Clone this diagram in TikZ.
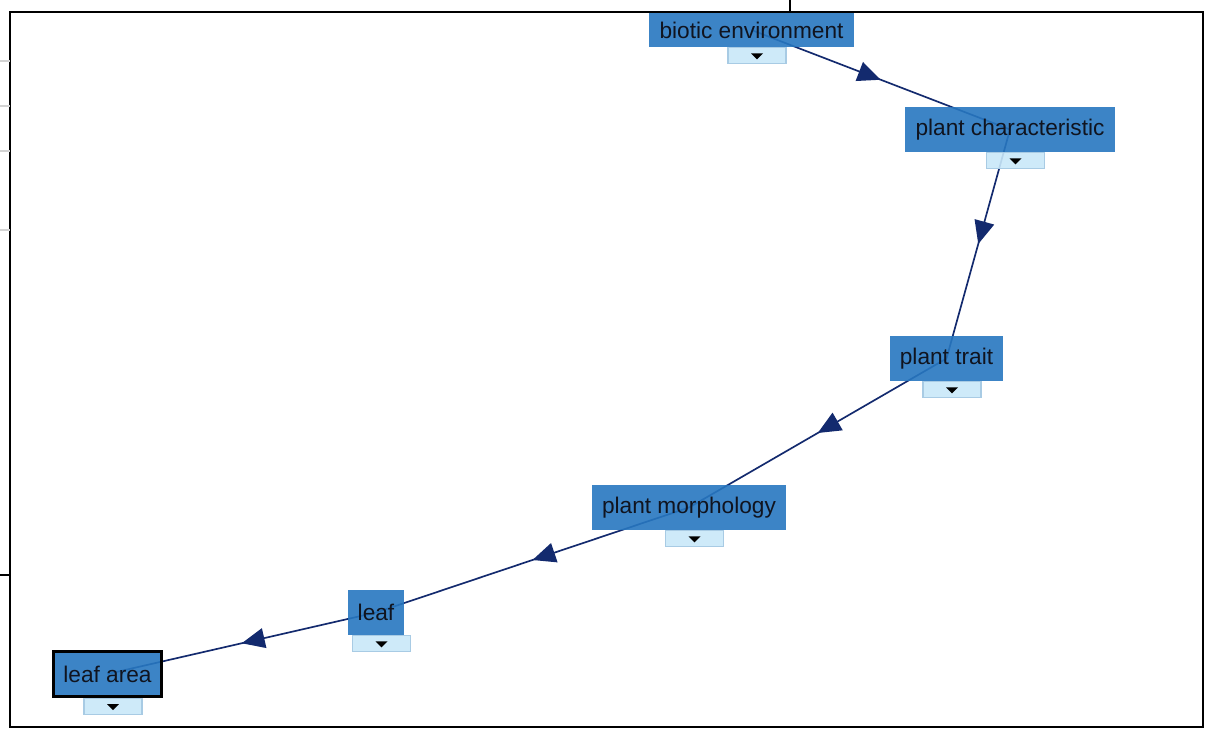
\documentclass[tikz,border=0pt]{standalone}
\usepackage{fontspec}
\setmainfont{Liberation Sans}
\usetikzlibrary{positioning,arrows.meta,decorations.markings,backgrounds}
\definecolor{boxblue}{HTML}{2777C0}
\definecolor{togglefill}{HTML}{C9E8F9}
\definecolor{toggleline}{HTML}{A8CBE4}
\definecolor{flownavy}{HTML}{132A6E}
\definecolor{textdark}{HTML}{10141F}
\tikzset{
  conceptbox/.style={fill=boxblue, fill opacity=0.9, text opacity=1, text=textdark,
    inner sep=0pt, minimum height=0.9cm, font=\fontsize{12.9}{15}\selectfont},
  togglebox/.style={fill=togglefill, fill opacity=0.9, draw=toggleline, line width=0.6pt,
    minimum width=1.16cm, minimum height=0.32cm, inner sep=0pt,
    below=0pt of #1, xshift=0.11cm,
    path picture={\fill[black, fill opacity=1] ([xshift=-0.12cm,yshift=0.05cm]path picture bounding box.center)
      -- ++(0.24cm,0) -- ++(-0.12cm,-0.12cm) -- cycle;}},
  flow/.style={draw=flownavy, line width=0.95pt, postaction={decorate},
    decoration={markings, mark=at position 0.5 with {\arrow[flownavy]{Triangle[length=0.46cm,width=0.4cm]}}}}
}
\begin{document}
\begin{tikzpicture}[x=0.02cm, y=-0.02cm]
  \begin{scope}[on background layer]
    \fill[white] (0,0) rectangle (1205,728);
  \end{scope}
  \useasboundingbox (0,0) rectangle (1205,728);
  % page bits round the frame
  \draw[line width=0.04cm] (10,12) rectangle (1203,727);
  \draw[line width=0.03cm] (790,0) -- (790,12);
  \foreach \yy in {61,106,151,230}
    \draw[gray!35, line width=0.03cm] (0,\yy) -- (10,\yy);
  \draw[line width=0.03cm] (0,575) -- (10,575);
  % concepts
  \node[conceptbox, minimum width=4.1cm, minimum height=0.68cm] (be) at (751.5,30) {biotic environment};
  \node[conceptbox, minimum width=4.2cm] (pc) at (1010,129.5) {plant characteristic};
  \node[conceptbox, minimum width=2.26cm] (pt) at (946.5,358.5) {plant trait};
  \node[conceptbox, minimum width=3.88cm] (pm) at (689,507.5) {plant morphology};
  \node[conceptbox, minimum width=1.12cm] (lf) at (376,612.5) {leaf};
  \node[conceptbox, draw=black, line width=0.06cm, minimum width=2.16cm] (la) at (107.5,674) {leaf area};
  % toggles
  \node[togglebox=be] (be-t) {};
  \node[togglebox=pc] (pc-t) {};
  \node[togglebox=pt] (pt-t) {};
  \node[togglebox=pm] (pm-t) {};
  \node[togglebox=lf] (lf-t) {};
  \node[togglebox=la] (la-t) {};
  % links
  \begin{scope}[on background layer]
    \draw[flow] (be.center) -- (pc.center);
    \draw[flow] (pc.center) -- (pt.center);
    \draw[flow] (pt.center) -- (pm.center);
    \draw[flow] (pm.center) -- (lf.center);
    \draw[flow] (lf.center) -- (la.center);
  \end{scope}
\end{tikzpicture}
\end{document}
